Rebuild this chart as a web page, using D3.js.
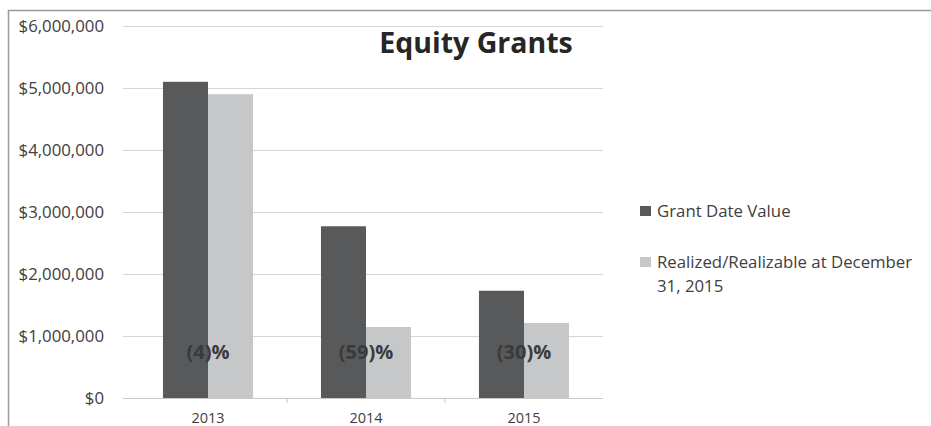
<!DOCTYPE html>
<html>
<head>
<meta charset="utf-8">
<script src="https://cdn.jsdelivr.net/npm/d3@7/dist/d3.min.js"></script>
<style>
  html, body { margin: 0; padding: 0; background: #fff; }
  svg { display: block; font-family: "Open Sans", Lato, sans-serif; }
</style>
</head>
<body>
<svg id="chart" width="931" height="426"></svg>
<script>
const categories = ["2013", "2014", "2015"];
const seriesNames = ["Grant Date Value", "Realized/Realizable at December 31, 2015"];
const grantDateValue = [5100000, 2770000, 1730000];
const realizedValue = [4900000, 1145000, 1210000];
const changeLabels = ["(4)%", "(59)%", "(30)%"];
const yTicks = [0, 1000000, 2000000, 3000000, 4000000, 5000000, 6000000];
const title = "Equity Grants";

const svg = d3.select("#chart");
const colors = ["#58595b", "#c6c7c8"];

// frame
svg.append("path")
  .attr("d", "M8.5,426 L8.5,10.5 L931,10.5")
  .attr("fill", "none").attr("stroke", "#9a9a9a").attr("stroke-width", 1.5);

const plotLeft = 123, plotRight = 603;
const y = d3.scaleLinear().domain([0, 6000000]).range([398, 26]);
const x0 = d3.scaleBand().domain(categories).range([129, 603]).paddingInner(0.43).paddingOuter(0.215);
const x1 = d3.scaleBand().domain([0, 1]).range([0, x0.bandwidth()]);

// gridlines
svg.append("g").selectAll("line").data(yTicks.slice(1)).join("line")
  .attr("x1", plotLeft).attr("x2", plotRight)
  .attr("y1", d => Math.round(y(d)) + 0.5).attr("y2", d => Math.round(y(d)) + 0.5)
  .attr("stroke", "#d6d6d6").attr("stroke-width", 1.2);

// y labels
const fmt = d => "$" + d3.format(",")(d);
svg.append("g").selectAll("text").data(yTicks).join("text")
  .attr("x", 104).attr("y", d => y(d))
  .attr("dy", "0.35em").attr("text-anchor", "end")
  .attr("font-size", 16.8).attr("fill", "#404040")
  .text(fmt);

// bars
const data = categories.map((c, i) => ({ c, vals: [grantDateValue[i], realizedValue[i]] }));
const groups = svg.append("g").selectAll("g").data(data).join("g")
  .attr("transform", d => `translate(${x0(d.c)},0)`);
groups.selectAll("rect").data(d => d.vals.map((v, k) => ({ v, k }))).join("rect")
  .attr("x", d => x1(d.k)).attr("width", x1.bandwidth())
  .attr("y", d => y(d.v)).attr("height", d => y(0) - y(d.v))
  .attr("fill", d => colors[d.k]);

// x axis line and ticks
svg.append("line").attr("x1", plotLeft).attr("x2", plotRight)
  .attr("y1", 398.5).attr("y2", 398.5).attr("stroke", "#c8c8c8").attr("stroke-width", 1.2);
const bounds = [categories[1], categories[2]].map(c => x0(c) - x0.step() * x0.paddingInner() / 2);
svg.append("g").selectAll("line").data(bounds).join("line")
  .attr("x1", d => d).attr("x2", d => d).attr("y1", 398).attr("y2", 403)
  .attr("stroke", "#c8c8c8");
svg.append("g").selectAll("text").data(categories).join("text")
  .attr("x", d => x0(d) + x0.bandwidth() / 2).attr("y", 418)
  .attr("dy", "0.35em").attr("text-anchor", "middle")
  .attr("font-size", 14.5).attr("fill", "#404040").text(d => d);

// change labels
svg.append("g").selectAll("text").data(categories).join("text")
  .attr("x", d => x0(d) + x0.bandwidth() / 2).attr("y", 352)
  .attr("dy", "0.35em").attr("text-anchor", "middle")
  .attr("font-size", 20).attr("font-weight", "bold").attr("fill", "#3a3a3a")
  .text((d, i) => changeLabels[i]);

// title
svg.append("text").attr("x", 476).attr("y", 53).attr("text-anchor", "middle")
  .attr("font-size", 28.5).attr("font-weight", "bold").attr("fill", "#262626")
  .text(title);

// legend
const legend = svg.append("g");
const legY = [211, 262];
legend.selectAll("rect").data(seriesNames).join("rect")
  .attr("x", 640).attr("y", (d, i) => legY[i] - 5).attr("width", 11).attr("height", 10)
  .attr("fill", (d, i) => colors[i]);
const lt = legend.selectAll("text").data(seriesNames).join("text")
  .attr("x", 657).attr("y", (d, i) => legY[i]).attr("dy", "0.35em")
  .attr("font-size", 16.8).attr("fill", "#404040");
lt.each(function(d, i) {
  const t = d3.select(this);
  if (i === 1) {
    t.append("tspan").attr("x", 657).text("Realized/Realizable at December");
    t.append("tspan").attr("x", 657).attr("dy", 24).text("31, 2015");
  } else {
    t.text(d);
  }
});
</script>
</body>
</html>
